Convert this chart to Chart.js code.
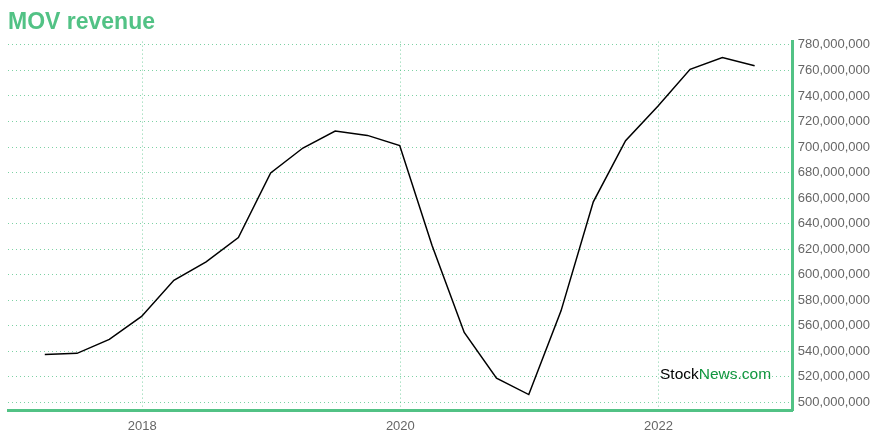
<!DOCTYPE html>
<html>
<head>
<meta charset="utf-8">
<script src="https://cdn.jsdelivr.net/npm/chart.js@4.4.1/dist/chart.umd.min.js"></script>
<style>
  html, body { margin: 0; padding: 0; background: #ffffff; }
  #wrap { width: 880px; height: 440px; position: relative; }
</style>
</head>
<body>
<div id="wrap"><canvas id="c" width="880" height="440"></canvas></div>
<script>
// Quarter labels (calendar quarters) and revenue values (USD)
const quarters = [
  "2017-Q1","2017-Q2","2017-Q3","2017-Q4",
  "2018-Q1","2018-Q2","2018-Q3","2018-Q4",
  "2019-Q1","2019-Q2","2019-Q3","2019-Q4",
  "2020-Q1","2020-Q2","2020-Q3","2020-Q4",
  "2021-Q1","2021-Q2","2021-Q3","2021-Q4",
  "2022-Q1","2022-Q2","2022-Q3"
];
const revenue = [
  537.5e6, 538.3e6, 549.2e6, 567.2e6,
  595.6e6, 610.0e6, 629.0e6, 679.7e6,
  699.2e6, 712.5e6, 709.1e6, 701.1e6,
  623.0e6, 554.7e6, 518.8e6, 506.0e6,
  571.6e6, 657.0e6, 705.0e6, 732.0e6,
  760.9e6, 770.1e6, 763.6e6
];
const xTickYears = [2018, 2020, 2022];
const yTickValues = [500e6,520e6,540e6,560e6,580e6,600e6,620e6,640e6,660e6,680e6,700e6,720e6,740e6,760e6,780e6];

function quarterToYear(q) {
  const [y, qq] = q.split("-Q");
  return Number(y) + Number(qq) * 0.25 - 0.005;
}
const points = quarters.map((q, i) => ({ x: quarterToYear(q), y: revenue[i] }));

const GREEN = "#52c285";
const GRID = "rgba(70,190,125,0.7)";
const FONT = "'Liberation Sans', Arial, Helvetica, sans-serif";

const watermark = {
  id: "watermark",
  afterDraw(chart) {
    const ctx = chart.ctx;
    ctx.save();
    ctx.font = "15.5px " + FONT;
    ctx.textBaseline = "alphabetic";
    ctx.textAlign = "left";
    const x0 = 660, y0 = 379;
    ctx.fillStyle = "#000000";
    ctx.fillText("Stock", x0, y0);
    const w = ctx.measureText("Stock").width;
    ctx.fillStyle = "#11963f";
    ctx.fillText("News.com", x0 + w, y0);
    ctx.restore();
  }
};

new Chart(document.getElementById("c"), {
  type: "line",
  data: {
    datasets: [{
      data: points,
      borderColor: "#000000",
      borderWidth: 1.5,
      pointRadius: 0,
      tension: 0,
      fill: false
    }]
  },
  options: {
    responsive: false,
    animation: false,
    devicePixelRatio: 1,
    layout: { padding: { left: 8, right: 5, top: 0, bottom: -2 } },
    plugins: {
      legend: { display: false },
      tooltip: { enabled: false },
      title: {
        display: true,
        text: "MOV revenue",
        align: "start",
        color: GREEN,
        font: { family: FONT, size: 23, weight: "bold" },
        padding: { top: 9, bottom: 5 }
      }
    },
    scales: {
      x: {
        type: "linear",
        min: 2016.96,
        max: 2023.04,
        afterBuildTicks: (axis) => { axis.ticks = xTickYears.map(v => ({ value: v })); },
        ticks: {
          color: "#666666",
          font: { family: FONT, size: 13 },
          padding: 8,
          callback: (v) => String(v)
        },
        grid: { color: GRID, lineWidth: 1, drawTicks: false },
        border: { display: true, color: GREEN, width: 3, dash: [1, 3] }
      },
      y: {
        position: "right",
        min: 493.6e6,
        max: 782.6e6,
        afterBuildTicks: (axis) => { axis.ticks = yTickValues.map(v => ({ value: v })); },
        ticks: {
          color: "#666666",
          font: { family: FONT, size: 13 },
          padding: 5,
          callback: (v) => Number(v).toLocaleString("en-US")
        },
        grid: { color: GRID, lineWidth: 1, drawTicks: false },
        border: { display: true, color: GREEN, width: 3, dash: [1, 3] }
      }
    }
  },
  plugins: [watermark]
});
</script>
</body>
</html>
